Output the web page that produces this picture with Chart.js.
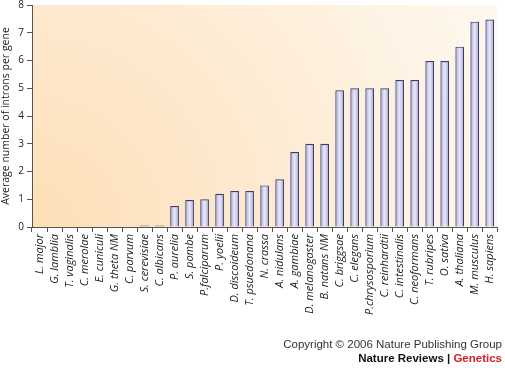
<!DOCTYPE html>
<html>
<head>
<meta charset="utf-8">
<script src="https://cdn.jsdelivr.net/npm/chart.js@4"></script>
<style>
  html, body { margin: 0; padding: 0; background: #fff; }
  #wrap { position: relative; width: 505px; height: 368px; }
  #footer { position: absolute; right: 3px; top: 337px; text-align: right;
    font-family: "Liberation Sans", Arial, sans-serif; font-size: 11.5px; line-height: 14px; color: #333; }
  #footer b { color: #111; }
  #footer .red { color: #d3202b; }
</style>
</head>
<body>
<div id="wrap">
  <canvas id="grafica" width="505" height="368"></canvas>
  <div id="footer">Copyright © 2006 Nature Publishing Group<br><b>Nature Reviews | <span class="red">Genetics</span></b></div>
</div>
<script>
// Especies y número medio de intrones por gen
var especies = ['L. major', 'G. lamblia', 'T. vaginalis', 'C. merolae', 'E. cuniculi',
    'G. theta NM', 'C. parvum', 'S. cerevisiae', 'C. albicans', 'P. aurelia', 'S. pombe',
    'P.falciparum', 'P. yoelii', 'D. discoideum', 'T. psuedonana', 'N. crassa',
    'A. nidulans', 'A. gambiae', 'D. melanogaster', 'B. natans NM', 'C. briggsae',
    'C. elegans', 'P.chrysosporium', 'C. reinhardtii', 'C. intestinalis',
    'C. neoformans', 'T. rubripes', 'O. sativa', 'A. thaliana', 'M. musculus', 'H. sapiens'];
var intrones = [0, 0, 0, 0, 0, 0, 0, 0.05, 0.05, 0.76, 0.97, 1.0, 1.2, 1.3, 1.3, 1.5,
    1.72, 2.7, 3.0, 3.0, 4.93, 5.0, 5.0, 5.0, 5.3, 5.3, 5.98, 5.98, 6.5, 7.4, 7.48];
var ticksY = [0, 1, 2, 3, 4, 5, 6, 7, 8];

// Fondo degradado del área de la gráfica
var fondo = {
    id: 'fondo',
    beforeDraw: function (chart) {
        var a = chart.chartArea;
        var ctx = chart.ctx;
        var g = ctx.createRadialGradient(a.left, a.bottom, 0, a.left, a.bottom, 560);
        g.addColorStop(0, '#fddfb6');
        g.addColorStop(0.2, '#fde4c3');
        g.addColorStop(0.45, '#feebd3');
        g.addColorStop(0.75, '#fef4e6');
        g.addColorStop(1, '#fffaf3');
        ctx.save();
        ctx.fillStyle = g;
        ctx.fillRect(a.left, a.top, a.right - a.left, a.bottom - a.top);
        ctx.restore();
    }
};

// Brillo en el centro de cada barra
var brillo = {
    id: 'brillo',
    afterDatasetsDraw: function (chart) {
        var ctx = chart.ctx;
        var meta = chart.getDatasetMeta(0);
        ctx.save();
        meta.data.forEach(function (bar) {
            var h = bar.base - bar.y;
            if (h < 3) return;
            var x0 = bar.x - bar.width / 2;
            var g = ctx.createLinearGradient(x0, 0, x0 + bar.width, 0);
            g.addColorStop(0, 'rgba(255,255,255,0)');
            g.addColorStop(0.5, 'rgba(255,255,255,0.75)');
            g.addColorStop(1, 'rgba(255,255,255,0)');
            ctx.fillStyle = g;
            ctx.fillRect(x0 + 1.5, bar.y + 1.5, bar.width - 3, h - 1.5);
        });
        ctx.restore();
    }
};

var chart = new Chart(document.getElementById('grafica').getContext('2d'), {
    type: 'bar',
    data: {
        labels: especies,
        datasets: [{
            data: intrones,
            backgroundColor: '#a7a7dc',
            borderColor: '#3d3d72',
            borderWidth: 1.2,
            barPercentage: 0.58,
            categoryPercentage: 1.0
        }]
    },
    options: {
        responsive: false,
        animation: false,
        layout: { padding: { top: 0, right: 4, left: 0, bottom: 0 } },
        plugins: { legend: { display: false }, tooltip: { enabled: false } },
        scales: {
            x: {
                afterFit: function (s) { s.height = 141; },
                border: { color: '#555', width: 1 },
                grid: { offset: true, drawOnChartArea: false, tickLength: 5, color: '#555' },
                ticks: {
                    autoSkip: false, minRotation: 90, maxRotation: 90, padding: 2,
                    color: '#222',
                    font: { family: 'Open Sans', style: 'italic', size: 11 }
                }
            },
            y: {
                min: 0, max: 8,
                afterFit: function (s) { s.width = 32; s.paddingTop = 5; s.paddingBottom = 0; },
                afterBuildTicks: function (s) { s.ticks = ticksY.map(function (v) { return { value: v }; }); },
                border: { color: '#555', width: 1 },
                grid: { drawOnChartArea: false, tickLength: 5, color: '#555' },
                ticks: { padding: 3, color: '#222', font: { family: 'Open Sans', size: 10 } },
                title: {
                    display: true, text: 'Average number of introns per gene', color: '#222',
                    padding: { top: 0, bottom: 3 },
                    font: { family: 'Open Sans', size: 10.5 }
                }
            }
        }
    },
    plugins: [fondo, brillo]
});
</script>
</body>
</html>
